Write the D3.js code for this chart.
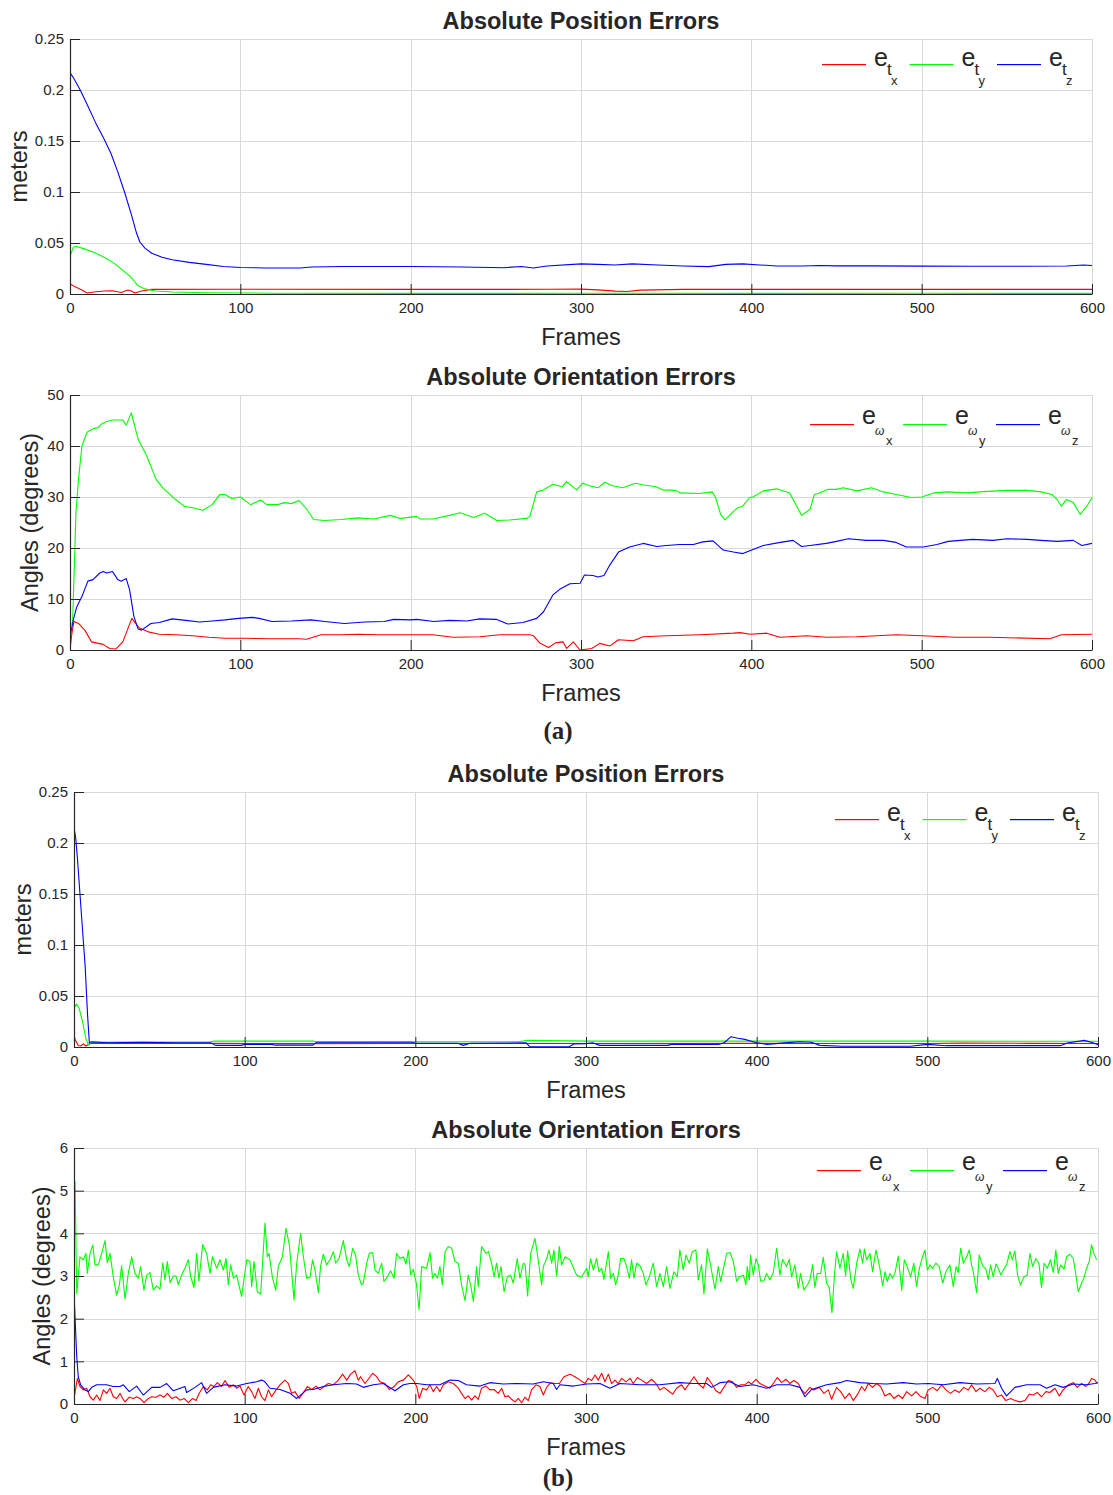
<!DOCTYPE html>
<html>
<head>
<meta charset="utf-8">
<script src="https://cdn.jsdelivr.net/npm/d3@7"></script>
<style>
  html, body { margin: 0; padding: 0; background: #fff; }
  svg { display: block; }
  text { font-family: "Liberation Sans", Arial, Helvetica, sans-serif; fill: #262626; }
</style>
</head>
<body>
<svg id="chart" width="1113" height="1495"></svg>
<script>
// ---------- tick values ----------
const frameTicks = [0, 100, 200, 300, 400, 500, 600];
const posTicks = [0, 0.05, 0.1, 0.15, 0.2, 0.25];
const angTicksA = [0, 10, 20, 30, 40, 50];
const angTicksB = [0, 1, 2, 3, 4, 5, 6];

// ---------- (a) position errors, [frame, metres] ----------
const posA_tx = [[0,0.010],[3,0.007],[7,0.004],[10,0.001],[14,0.002],[20,0.003],[25,0.0032],[30,0.0015],[34,0.004],[36,0.003],[38,0.001],[42,0.003],[48,0.0045],[100,0.0046],[200,0.0045],[280,0.0046],[300,0.0048],[310,0.004],[320,0.0028],[327,0.0025],[335,0.0038],[360,0.0045],[500,0.0045],[600,0.0045]];
const posA_ty = [[0,0.037],[2,0.046],[4,0.0465],[8,0.0445],[14,0.041],[20,0.036],[26,0.030],[32,0.022],[36,0.016],[38,0.012],[40,0.008],[44,0.005],[50,0.003],[60,0.002],[80,0.0012],[120,0.0008],[200,0.0006],[300,0.0007],[400,0.0006],[500,0.0007],[600,0.0006]];
const posA_tz = [[0,0.217],[2,0.212],[6,0.200],[10,0.186],[15,0.168],[20,0.152],[24,0.138],[28,0.120],[32,0.100],[36,0.078],[39,0.060],[41,0.051],[44,0.045],[48,0.040],[54,0.036],[60,0.0335],[70,0.031],[80,0.029],[90,0.027],[100,0.026],[115,0.0255],[135,0.0255],[142,0.0265],[160,0.027],[200,0.027],[230,0.0265],[255,0.0258],[265,0.027],[272,0.0255],[280,0.0275],[300,0.0295],[310,0.029],[320,0.0285],[330,0.0295],[345,0.0285],[360,0.0275],[375,0.0268],[385,0.029],[395,0.0295],[405,0.0285],[415,0.0275],[430,0.0275],[440,0.028],[450,0.0276],[470,0.0276],[500,0.0273],[530,0.0272],[560,0.0272],[585,0.0275],[595,0.0285],[600,0.028]];

// ---------- (a) orientation errors, [frame, degrees] ----------
const oriA_wx = [[0,0],[1,3],[2.3,5.6],[5,5.2],[8.7,3.9],[12.6,1.6],[19.4,1.1],[23.3,0.3],[27,0.2],[31,1.6],[36.3,6.2],[40.7,4.3],[46.6,3.5],[52.4,3.1],[62,3],[72,2.8],[81.6,2.5],[91.3,2.3],[103,2.3],[118.4,2.2],[134,2.2],[138.8,2.1],[147.5,3],[159,3],[169,3.1],[181,3],[194,3],[213,3],[225,2.5],[240.7,2.6],[252.4,3],[270,3],[272,2.8],[276,1.3],[281,0.5],[285,1.4],[289.4,1.6],[291.6,0.3],[295.5,1.6],[299.4,0],[306.3,0.3],[311,1.3],[317,0.8],[322,2],[330.8,1.8],[336.5,2.6],[350.3,2.8],[370,3],[389.4,3.3],[393.4,3.4],[399.3,3.1],[409,3.3],[416.8,2.5],[432.5,2.8],[444.3,2.5],[461.8,2.6],[485.3,3],[500,2.8],[520.5,2.5],[540,2.5],[575.3,2.2],[582,3],[600,3.1]];
const oriA_wy = [[0,5],[1.5,5.2],[3.5,26.9],[5,33.5],[7,40],[10,42.7],[13.5,43.4],[16.5,43.6],[18.5,44.3],[21.5,44.8],[25,45.1],[31,45.1],[33,44.1],[36,46.5],[40,41.3],[45,38.1],[50.5,33.5],[54.5,31.8],[62,29.5],[67,28.2],[72,27.9],[78,27.4],[83.5,28.5],[88,30.5],[91,30.5],[95,29.7],[100,30],[106,28.5],[112,29.4],[115.5,28.5],[122,28.5],[126,28.9],[130,28.7],[134.5,29.3],[139,27.6],[143,25.6],[149.5,25.4],[159,25.6],[169,25.9],[178.5,25.7],[188,26.4],[194,25.8],[203.5,26.2],[205.5,25.7],[213,25.7],[223,26.4],[229,26.9],[237,26],[243.5,26.8],[250.5,25.4],[258,25.5],[268,25.8],[270,26.2],[274,31],[277.5,31.3],[283.5,32.5],[289,32],[291.5,33],[297.5,31.4],[301,32.7],[305,32.2],[310,31.8],[314,32.9],[318.5,32.2],[324.5,31.8],[332,32.7],[338,32.3],[344,32],[348,31.4],[355.5,31.3],[358.5,30.8],[369.5,30.7],[377,31],[379,29.9],[382,26.6],[384.5,25.5],[389,27],[392,27.9],[395,28.2],[399,29.9],[401,30],[407,31.2],[415,31.6],[422.5,30.8],[425.5,28.9],[429.5,26.4],[434.5,27.6],[437,30.5],[440,30.8],[445,31.5],[450,31.5],[454,31.8],[462,31.2],[470.5,31.8],[477.5,31],[485,30.5],[494,29.9],[500,30],[507,30.8],[515,31],[526,30.8],[534,31],[550,31.3],[562,31.3],[570,31],[576.5,30.5],[579.5,29.5],[582,28.2],[585,29.5],[589,28.9],[593,26.6],[597,28.2],[600,29.9]];
const oriA_wz = [[0,2.6],[2,6],[4,8.5],[7,10.5],[10.5,13.5],[13.5,13.8],[17.5,15.1],[19.5,15.4],[21.5,15.1],[25,15.4],[28,13.8],[30,13.5],[33,14],[35,11.8],[37.5,6.6],[40,4.1],[42,3.9],[47.5,5.2],[52.5,5.4],[60,6.1],[68,5.8],[76,5.5],[83.5,5.7],[91,5.9],[99,6.2],[107,6.4],[111,6.2],[118.5,5.6],[130,5.7],[141.5,5.9],[149.5,5.6],[161,5.2],[173,5.5],[184.5,5.6],[190,6],[200,5.9],[203.5,6],[213.5,5.6],[223,5.8],[233,5.7],[240.5,6.1],[250.5,6],[257,5.1],[266,5.4],[274,6.2],[278,7.5],[283.5,10.8],[287.5,11.9],[293.5,13],[299.5,13.1],[302,14.7],[307,14.6],[310,14.3],[313.5,14.6],[317,16.7],[322,19.2],[328.5,20.2],[336.5,20.9],[344.5,20.3],[350,20.5],[358,20.7],[366,20.7],[371.5,21.2],[377.5,21.4],[383.5,19.6],[389.5,19.2],[395,18.9],[401,19.7],[407,20.5],[417,21.1],[424.5,21.5],[429.5,20.3],[434.5,20.5],[444,20.9],[450,21.3],[457,21.8],[467.5,21.5],[477.5,21.5],[485,21.1],[491,20.2],[501,20.2],[509,20.7],[515.5,21.3],[530,21.7],[542,21.5],[550,21.8],[562,21.7],[570,21.5],[579.5,21.3],[589,21.5],[594,20.5],[600,20.9]];

// ---------- (b) position errors, [frame, metres] ----------
const posB_tx = [[0,0.011],[1,0.006],[2.5,0.0015],[4,0.001],[5.5,0.003],[7,0.001],[8.5,0.0025],[10,0.0035],[60,0.0035],[80,0.0036],[120,0.0033],[200,0.0035],[300,0.0034],[400,0.0036],[450,0.0034],[500,0.0035],[520,0.0038],[560,0.0036],[600,0.0034]];
const posB_ty = [[0,0.038],[1.5,0.042],[3,0.038],[5,0.025],[7,0.008],[8.5,0.002],[10,0.0045],[30,0.0048],[80,0.005],[82,0.0058],[140,0.0058],[142,0.005],[260,0.0052],[266,0.0065],[300,0.0058],[400,0.0058],[500,0.0058],[600,0.0056]];
const posB_tz = [[0,0.215],[1,0.205],[2,0.185],[3.5,0.150],[5,0.115],[6.5,0.080],[8,0.030],[9,0.004],[10,0.005],[20,0.0042],[40,0.0045],[60,0.0042],[80,0.0042],[83,0.0016],[98,0.0016],[100,0.0026],[116,0.0026],[118,0.0018],[140,0.0018],[142,0.0046],[198,0.0046],[200,0.0037],[225,0.0037],[228,0.0016],[232,0.0037],[265,0.004],[267,0.0003],[290,0.0003],[293,0.003],[300,0.0033],[304,0.0042],[308,0.0016],[348,0.0016],[350,0.0026],[378,0.0026],[381,0.0042],[385,0.0101],[389,0.0085],[393,0.0075],[400,0.0042],[406,0.0026],[420,0.0045],[425,0.0052],[432,0.0046],[437,0.0016],[450,0.0007],[490,0.0007],[500,0.0026],[511,0.0013],[578,0.0013],[582,0.0039],[592,0.0065],[597,0.0042],[600,0.0022]];

// ---------- (b) orientation errors, [frame, degrees] ----------
const oriB_wx = [[0,0.13],[2,0.6],[3.5,0.41],[5.5,0.33],[7.4,0.37],[9.4,0.17],[11.3,0.09],[13.3,0.21],[15.2,0.08],[17.2,0.33],[19.1,0.25],[21.1,0.37],[23,0.17],[25,0.13],[27,0.25],[28.5,0.13],[29.9,0.05],[32.4,0.16],[34.8,0.13],[36.7,0.17],[38.7,0.13],[41,0.03],[43.6,0.13],[45.5,0.17],[48,0.16],[50.4,0.21],[52.7,0.16],[54.7,0.25],[57.2,0.13],[59.8,0.17],[62.1,0.09],[64.5,0.13],[67,0.03],[69.5,0.13],[71.5,0.08],[73.4,0.25],[75.8,0.41],[78.1,0.33],[80.1,0.45],[82,0.41],[84,0.5],[86.5,0.41],[88.5,0.55],[91,0.39],[93.4,0.45],[95.3,0.37],[97.3,0.42],[99.6,0.21],[102.1,0.41],[104.1,0.29],[106,0.13],[108,0.37],[109.9,0.17],[111.9,0.08],[113.9,0.33],[115.8,0.17],[118.4,0.33],[120.7,0.45],[123.6,0.56],[125.6,0.48],[127.5,0.25],[129.5,0.29],[132,0.13],[134.4,0.27],[136.7,0.41],[139.3,0.34],[141.8,0.42],[144.1,0.33],[146.5,0.41],[149,0.48],[151.9,0.45],[154.9,0.56],[157.4,0.7],[159.8,0.56],[162.1,0.7],[164.6,0.78],[166.6,0.56],[167.9,0.64],[170.5,0.48],[172.4,0.58],[175,0.72],[177.3,0.64],[179.3,0.52],[182.2,0.48],[184.7,0.34],[187.1,0.39],[190,0.52],[193,0.56],[195.9,0.68],[198.8,0.56],[200.8,0.41],[202.3,0.13],[204.3,0.37],[206.6,0.33],[208.6,0.45],[210.5,0.29],[212.5,0.41],[214.4,0.29],[216.4,0.45],[219.3,0.52],[222.2,0.48],[225.2,0.37],[227.1,0.25],[229.1,0.13],[231,0.19],[233,0.09],[234.9,0.19],[236.9,0.11],[238.8,0.37],[241.4,0.42],[243.7,0.33],[246.1,0.34],[248.6,0.25],[250.6,0.37],[252.5,0.17],[254.5,0.19],[256.4,0.11],[258.4,0.05],[260.3,0.13],[262.3,0.03],[264.2,0.16],[266.2,0.08],[268.1,0.33],[270.7,0.45],[273,0.41],[275,0.21],[276.9,0.39],[279.3,0.5],[281.8,0.48],[284.4,0.48],[287.1,0.64],[290.6,0.7],[293.5,0.64],[296.5,0.56],[299.4,0.48],[301.3,0.6],[303.3,0.55],[305.3,0.68],[307.2,0.56],[309.2,0.72],[311.1,0.52],[313.1,0.7],[315,0.48],[317,0.56],[318.9,0.48],[320.9,0.6],[323.4,0.52],[325.8,0.6],[327.7,0.48],[330.1,0.62],[332.6,0.56],[335.5,0.48],[338.5,0.58],[341,0.48],[343.3,0.33],[345.7,0.39],[348.2,0.31],[350.8,0.23],[353.1,0.37],[356,0.45],[358,0.33],[360.5,0.48],[363.3,0.64],[365.8,0.48],[368.7,0.37],[371.1,0.62],[373.6,0.48],[376.1,0.31],[378.5,0.25],[380.8,0.39],[383.4,0.55],[385.9,0.52],[388.3,0.39],[390.6,0.45],[393.1,0.45],[395.1,0.52],[397,0.47],[399.6,0.58],[401.9,0.48],[404.8,0.42],[407.8,0.37],[409.7,0.48],[412.1,0.62],[414.6,0.5],[417.2,0.58],[419.5,0.48],[421.8,0.55],[424.4,0.48],[426.3,0.33],[428.3,0.25],[431.2,0.39],[433.6,0.33],[436.7,0.39],[439.4,0.25],[442,0.33],[443.9,0.11],[446.8,0.39],[449.2,0.29],[451.7,0.13],[454.3,0.25],[456.6,0.08],[459.5,0.25],[461.5,0.41],[463.4,0.31],[465.4,0.48],[467.9,0.39],[470.3,0.48],[472.6,0.41],[475.2,0.19],[478.1,0.25],[480.4,0.13],[483,0.21],[485.5,0.13],[487.9,0.29],[490.8,0.19],[493.3,0.29],[495.7,0.19],[498.6,0.13],[500.5,0.33],[503.1,0.39],[505.8,0.31],[508.4,0.45],[510.9,0.33],[513.6,0.25],[516.2,0.33],[518.7,0.27],[521.4,0.39],[524,0.33],[525.9,0.45],[528.5,0.29],[530.8,0.37],[533.7,0.29],[536.3,0.39],[538.6,0.33],[541,0.17],[543.5,0.21],[546,0.08],[548.8,0.13],[551.3,0.08],[554.3,0.05],[557.2,0.08],[559.7,0.23],[562.1,0.21],[564.4,0.27],[566.9,0.17],[569.5,0.29],[571.8,0.27],[574.8,0.37],[577.3,0.19],[579.6,0.33],[582.6,0.45],[585.5,0.5],[587.8,0.39],[590.4,0.48],[592.9,0.41],[594.9,0.5],[596.2,0.6],[598.2,0.56],[599.6,0.48]];
const oriB_wy = [[0,5.2],[0.6,5.21],[1.6,2.59],[3.5,3.45],[5.5,3.38],[7,3.53],[7.8,3.06],[9.4,3.53],[11,3.73],[12.3,3.26],[14.3,3.26],[16.2,3.53],[18.2,3.83],[19.5,3.31],[21.1,3.53],[23,2.98],[25,2.55],[26.6,2.79],[27.9,3.24],[29.9,2.46],[31.8,3.06],[33.8,3.45],[35.7,3.06],[37.7,2.95],[39,3.22],[41,2.67],[42.6,3.02],[44.5,3.08],[46.5,2.67],[48.4,2.77],[50.4,2.69],[52,3.31],[53.3,2.91],[54.7,3.34],[56.3,2.84],[58.2,3.0],[59.8,3.0],[61.1,2.8],[63.1,3.02],[65,3.18],[67,3.38],[68.4,2.98],[70.3,2.73],[71.9,3.53],[73.2,2.88],[75.4,3.74],[77.7,3.53],[79.7,3.06],[81.1,3.45],[83.6,3.18],[85.5,3.38],[87.5,3.14],[89.1,3.41],[90.4,2.79],[91.8,3.26],[93.4,2.95],[95.3,3.02],[98.2,2.52],[101.2,3.38],[103.1,3.34],[104.1,2.75],[105.5,3.34],[107.4,2.63],[109.4,2.58],[111.9,4.24],[113.3,3.45],[114.3,3.53],[116.2,2.98],[118.2,2.67],[119.7,3.22],[122.1,3.45],[124.2,4.12],[126.2,3.73],[128.9,2.44],[130.5,3.3],[132.8,4.0],[134.4,3.45],[136.3,2.95],[138.3,2.97],[139.8,3.38],[141.2,3.14],[143.2,2.61],[144.5,3.24],[146.1,3.51],[148,3.26],[150,3.38],[152,3.57],[153.3,3.3],[155.3,3.41],[157.8,3.83],[159.8,3.38],[161.3,3.22],[163.3,3.65],[165,3.49],[166.6,3.02],[168.5,2.79],[169.5,2.83],[171.5,3.3],[173,3.53],[175,3.55],[176.4,3.14],[178.3,3.06],[180.3,3.3],[181.6,2.87],[183.6,2.98],[185.5,3.12],[187.5,2.95],[189,3.53],[191,3.41],[193,3.45],[194.5,3.28],[195.9,3.61],[197.3,3.02],[198.8,3.16],[200.6,2.83],[202.2,2.21],[203.7,3.22],[206.6,3.18],[208.6,3.55],[210.1,2.95],[211.5,3.06],[212.9,2.95],[214.4,3.22],[215.8,2.79],[217.4,3.57],[219.3,3.69],[221.3,3.65],[223.2,3.34],[225.2,3.3],[227.1,2.79],[229.1,2.42],[231,3.02],[232.6,2.75],[234,2.4],[235.9,3.22],[236.9,2.75],[238.8,3.69],[241.4,3.53],[242.8,3.57],[244.7,3.3],[246.1,2.98],[247.6,3.3],[249,2.95],[250.2,3.22],[252,2.63],[253.9,2.98],[255.8,3.02],[257.4,2.83],[259.7,3.41],[261.3,2.95],[263.3,3.3],[264.4,3.26],[265.8,2.53],[267.6,3.53],[270.1,3.88],[272,3.38],[274,2.79],[275,3.22],[277,3.41],[278.3,3.61],[279.9,3.3],[281.2,3.61],[282.8,3.0],[284.4,3.69],[285.7,3.26],[287.7,3.45],[290.6,3.38],[294.5,3.02],[297.4,2.97],[300.4,3.18],[301.3,2.98],[302.7,3.41],[304.3,3.14],[306.2,3.41],[307.6,3.1],[309.2,3.18],[310.5,2.92],[313.1,3.57],[314.4,2.95],[316,3.06],[317.4,2.79],[318.9,3.02],[320.3,3.41],[322.2,3.41],[323.8,3.22],[325.4,2.95],[326.7,3.38],[328.1,2.95],[329.7,3.3],[331.6,3.24],[333.6,3.06],[335.1,2.79],[337.1,2.98],[339.4,3.3],[341.4,2.75],[343.3,3.06],[345.3,2.75],[347.2,3.22],[349.2,2.71],[351.5,3.1],[353.5,2.98],[355,3.61],[357,3.14],[358.6,3.49],[360.5,3.3],[362.3,3.57],[364.4,3.61],[365.8,2.91],[367.7,3.26],[369.1,2.58],[371.1,3.63],[373,3.26],[374.2,2.98],[375.6,2.69],[377.5,3.22],[378.9,2.87],[380.8,3.22],[382.4,3.53],[384.4,3.55],[386.3,3.34],[388.3,2.87],[389.8,2.98],[392.2,3.02],[393.7,2.79],[394.5,3.22],[395.7,2.91],[396.4,3.49],[398,3.02],[399.6,3.41],[401,3.26],[402.3,2.88],[404.3,2.89],[405.8,3.06],[407.8,2.91],[409.7,3.08],[411.7,3.65],[413.6,3.02],[415.2,3.39],[417.5,3.22],[419.1,3.39],[420.5,2.98],[422.4,3.26],[424.4,2.71],[425.7,3.06],[427.7,2.67],[429.7,2.79],[431.2,2.91],[432.8,3.26],[434.1,2.73],[435.5,3.06],[437.5,3.06],[439,3.44],[441,2.83],[442.5,2.73],[444.1,2.14],[445.5,2.98],[446.8,3.57],[448.8,3.18],[450.7,3.53],[452.1,3.0],[453.3,3.59],[455.2,2.91],[456.6,2.71],[458.6,3.3],[460.5,3.63],[462.1,3.3],[463.1,3.63],[464.4,3.38],[466.4,3.53],[467.9,3.1],[469.9,3.61],[472.2,3.18],[473.8,2.77],[475.2,3.1],[476.5,2.87],[478.1,3.06],[479.6,2.95],[481,3.06],[483,3.47],[485,2.66],[486.5,3.38],[488.2,3.22],[490.2,2.98],[492.1,3.3],[493.7,2.75],[495.3,3.18],[497.2,3.45],[498.6,3.61],[500,3.14],[501.5,3.26],[503.1,3.18],[505,3.3],[507,3.22],[509,2.83],[510.9,3.1],[513.2,3.26],[515.2,2.75],[516.8,3.22],[518.1,3.08],[519.5,3.65],[521.1,3.3],[522.6,3.41],[524.6,3.61],[525.9,3.26],[526.9,3.1],[528.9,2.61],[530.4,3.49],[532.4,3.24],[534.3,3.16],[535.7,2.92],[537.1,3.26],[538.6,2.98],[540.2,3.28],[541.6,3.18],[543.1,3.02],[544.5,3.14],[546.4,3.26],[548.4,3.57],[549.8,3.38],[551.3,3.59],[552.9,3.02],[554.6,2.79],[556.6,2.98],[558.5,3.02],[560.1,3.53],[561.7,3.22],[563.6,3.41],[565.4,3.3],[566.9,2.73],[568.5,3.3],[570.3,3.18],[572.2,3.38],[573.8,3.08],[575.3,3.61],[576.7,3.06],[578.1,3.26],[580.1,3.16],[581.6,3.45],[583.6,3.51],[585.5,3.41],[587.1,3.02],[588.4,2.63],[590.4,2.83],[591.7,2.95],[593.3,3.18],[594.9,3.34],[596.2,3.73],[597.6,3.53],[599.2,3.38]];
const oriB_wz = [[0,2.59],[1.6,1.11],[2.5,0.64],[3.9,0.45],[6.4,0.33],[8.4,0.29],[10.4,0.39],[13.3,0.45],[19.1,0.45],[23,0.41],[27,0.41],[28.9,0.45],[32.4,0.29],[36.7,0.42],[40.6,0.21],[45.5,0.39],[50.4,0.39],[54.3,0.48],[58.2,0.31],[65,0.41],[66,0.27],[70.9,0.39],[74.8,0.5],[77.7,0.25],[81.6,0.39],[88.5,0.45],[95.3,0.42],[101.2,0.48],[107,0.52],[110,0.56],[111.9,0.52],[114.8,0.37],[120.7,0.34],[126.6,0.25],[130.5,0.13],[136.3,0.33],[140.2,0.34],[146.1,0.41],[152,0.45],[159.8,0.48],[165.6,0.47],[169.5,0.39],[175.4,0.45],[181.2,0.48],[188.1,0.31],[193,0.45],[196.9,0.48],[200.8,0.48],[206.6,0.45],[214.4,0.45],[220.3,0.56],[225.2,0.55],[230,0.45],[237.9,0.42],[243.7,0.5],[251.5,0.47],[259.4,0.48],[269.1,0.47],[275,0.52],[280.8,0.48],[282.8,0.34],[284.7,0.45],[292.6,0.42],[300.4,0.47],[308.2,0.48],[314,0.37],[319.9,0.48],[331.6,0.45],[343.3,0.45],[355,0.5],[362.9,0.48],[370.7,0.48],[373.6,0.39],[378.5,0.5],[384.4,0.52],[390.2,0.41],[398,0.45],[405.8,0.37],[411.7,0.45],[419.5,0.45],[425.4,0.39],[428.3,0.17],[432.2,0.34],[441,0.45],[448.8,0.5],[452.7,0.55],[460.5,0.5],[468.3,0.48],[476.1,0.47],[485.9,0.5],[493.7,0.47],[500.5,0.48],[509.3,0.45],[519.1,0.5],[528.9,0.47],[539.6,0.48],[541,0.6],[543.5,0.37],[546.4,0.19],[551.3,0.39],[558.2,0.45],[566,0.45],[569.9,0.37],[574.8,0.45],[579.6,0.39],[585.5,0.47],[593.3,0.45],[598.2,0.48],[600,0.5]];

// ---------- legend subscripts and colours ----------
const axisNames = ["x", "y", "z"];
const seriesColors = ["#ff0000", "#00ff00", "#0000ff"];

// ---------- panel layout ----------
const panels = [
  { left: 70, right: 1092, top: 39, bottom: 294, yMax: 0.25, yTicks: posTicks,
    title: "Absolute Position Errors", yLabel: "meters", yLabelX: 27,
    series: [posA_tx, posA_ty, posA_tz], kind: "t",
    legendX: 822, legendY: 64, legendStep: 87.5 },
  { left: 70, right: 1092, top: 395, bottom: 650, yMax: 50, yTicks: angTicksA,
    title: "Absolute Orientation Errors", yLabel: "Angles (degrees)", yLabelX: 38,
    series: [oriA_wx, oriA_wy, oriA_wz], kind: "w",
    legendX: 810, legendY: 424, legendStep: 93 },
  { left: 74, right: 1098, top: 792, bottom: 1047, yMax: 0.25, yTicks: posTicks,
    title: "Absolute Position Errors", yLabel: "meters", yLabelX: 31,
    series: [posB_tx, posB_ty, posB_tz], kind: "t",
    legendX: 835, legendY: 819, legendStep: 87.5 },
  { left: 74, right: 1098, top: 1148, bottom: 1404, yMax: 6, yTicks: angTicksB,
    title: "Absolute Orientation Errors", yLabel: "Angles (degrees)", yLabelX: 50,
    series: [oriB_wx, oriB_wy, oriB_wz], kind: "w",
    legendX: 817, legendY: 1170, legendStep: 93 }
];

const captions = [
  { text: "(a)", x: 558, y: 739 },
  { text: "(b)", x: 558, y: 1486 }
];

const svg = d3.select("#chart");
const defs = svg.append("defs");

panels.forEach((p, idx) => {
  const x = d3.scaleLinear().domain([0, 600]).range([p.left, p.right]);
  const y = d3.scaleLinear().domain([0, p.yMax]).range([p.bottom, p.top]);
  const g = svg.append("g").attr("class", "panel");

  // grid
  g.append("g").attr("class", "xgrid").selectAll("line").data(frameTicks.slice(1)).join("line")
    .attr("x1", d => Math.round(x(d)) + 0.5).attr("x2", d => Math.round(x(d)) + 0.5)
    .attr("y1", p.top).attr("y2", p.bottom)
    .attr("stroke", "#d9d9d9").attr("stroke-width", 1);
  g.append("g").attr("class", "ygrid").selectAll("line").data(p.yTicks.slice(1)).join("line")
    .attr("x1", p.left).attr("x2", p.right)
    .attr("y1", d => Math.round(y(d)) + 0.5).attr("y2", d => Math.round(y(d)) + 0.5)
    .attr("stroke", "#d9d9d9").attr("stroke-width", 1);

  // data lines
  const clipId = "plotclip" + idx;
  defs.append("clipPath").attr("id", clipId).append("rect")
    .attr("x", p.left).attr("y", p.top - 2)
    .attr("width", p.right - p.left + 1).attr("height", p.bottom - p.top + 3);
  const line = d3.line().x(d => x(d[0])).y(d => y(d[1]));
  g.append("g").attr("class", "series").attr("clip-path", `url(#${clipId})`)
    .selectAll("path").data(p.series).join("path")
    .attr("d", line).attr("fill", "none")
    .attr("stroke", (d, i) => seriesColors[i]).attr("stroke-width", 1.1)
    .attr("stroke-linejoin", "round");

  // axes with inward ticks
  const xAxis = d3.axisBottom(x).tickValues(frameTicks).tickFormat(d => String(d))
    .tickSizeInner(-10).tickSizeOuter(0).tickPadding(8);
  const yAxis = d3.axisLeft(y).tickValues(p.yTicks).tickFormat(d => String(d))
    .tickSizeInner(-10).tickSizeOuter(0).tickPadding(6);
  const gx = g.append("g").attr("transform", `translate(0,${p.bottom})`).call(xAxis);
  const gy = g.append("g").attr("transform", `translate(${p.left},0)`).call(yAxis);
  [gx, gy].forEach(a => {
    a.select(".domain").attr("stroke", "#262626").attr("stroke-width", 1.2);
    a.selectAll(".tick line").attr("stroke", "#262626");
    a.selectAll(".tick text").style("font-size", "15px").attr("fill", "#262626")
      .style("font-family", "'Liberation Sans', Arial, sans-serif");
  });

  // title and axis labels
  g.append("text").attr("x", (p.left + p.right) / 2).attr("y", p.top - 10)
    .attr("text-anchor", "middle").style("font-size", "23.5px").style("font-weight", "bold")
    .attr("fill", "#000").text(p.title);
  g.append("text").attr("x", (p.left + p.right) / 2).attr("y", p.bottom + 51)
    .attr("text-anchor", "middle").style("font-size", "23.5px").text("Frames");
  g.append("text")
    .attr("transform", `translate(${p.yLabelX},${(p.top + p.bottom) / 2}) rotate(-90)`)
    .attr("text-anchor", "middle").style("font-size", "23.5px").text(p.yLabel);

  // legend: one coloured sample and a subscripted label per series
  const lg = g.append("g").attr("class", "legend");
  axisNames.forEach((name, i) => {
    const x0 = p.legendX + i * p.legendStep;
    const ly = p.legendY;
    lg.append("rect").attr("x", x0).attr("y", ly).attr("width", 44).attr("height", 1.2)
      .attr("fill", seriesColors[i]);
    const tx = x0 + 52;
    if (p.kind === "t") {
      lg.append("text").attr("x", tx).attr("y", ly + 2).style("font-size", "25px").attr("fill", "#000").text("e");
      lg.append("text").attr("x", tx + 13).attr("y", ly + 11).style("font-size", "17px").attr("fill", "#000").text("t");
      lg.append("text").attr("x", tx + 17).attr("y", ly + 21).style("font-size", "13px").attr("fill", "#000").text(name);
    } else {
      lg.append("text").attr("x", tx).attr("y", ly).style("font-size", "25px").attr("fill", "#000").text("e");
      lg.append("text").attr("x", tx + 13).attr("y", ly + 11).style("font-size", "12px")
        .style("font-style", "italic").attr("fill", "#555").text("\u03C9");
      lg.append("text").attr("x", tx + 24).attr("y", ly + 20.5).style("font-size", "13px").attr("fill", "#000").text(name);
    }
  });
});

// sub-figure captions
svg.selectAll("text.caption").data(captions).join("text").attr("class", "caption")
  .attr("x", d => d.x).attr("y", d => d.y).attr("text-anchor", "middle")
  .style("font-family", "'Liberation Serif', 'Times New Roman', serif")
  .style("font-size", "25px").style("font-weight", "bold").attr("fill", "#000")
  .text(d => d.text);
</script>
</body>
</html>
